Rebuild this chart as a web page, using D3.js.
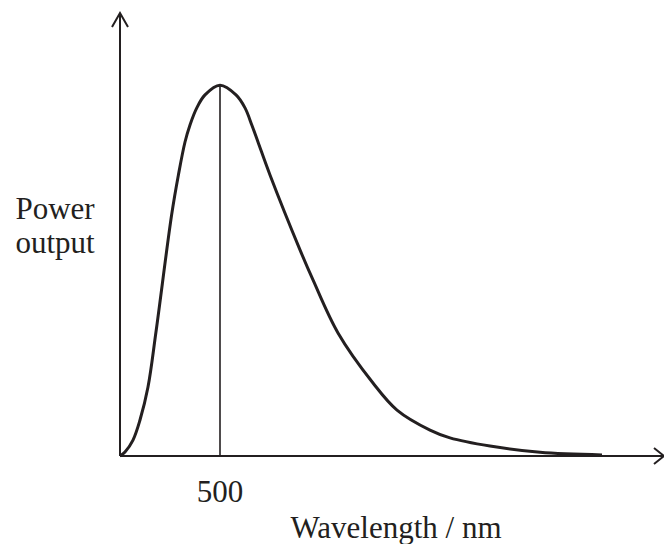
<!DOCTYPE html>
<html>
<head>
<meta charset="utf-8">
<script src="https://cdn.jsdelivr.net/npm/d3@7"></script>
<style>
  body { margin: 0; background: #fff; }
</style>
</head>
<body>
<svg id="chart" width="664" height="544"></svg>
<script>
// wavelength (nm) and power output (arbitrary units, peak = 100)
var wavelength = [0, 25, 65, 100, 140, 180, 258, 292, 325, 350, 384, 425, 500, 580, 625, 659, 690, 750, 900, 965, 1090, 1265, 1385, 1550, 1650, 1850, 2100, 2410];
var power      = [0, 1.1, 4.3, 9.7, 18.6, 33.5, 65.0, 75.8, 84.7, 89.3, 93.9, 97.4, 100, 97.4, 93.9, 89.3, 84.7, 75.8, 55.6, 47.5, 33.2, 19.7, 12.4, 7.0, 4.9, 2.7, 1.0, 0.3];
var peakWavelength = 500;
var tickLabels = ["500"];

var ink = "#231f20";
var serif = "'Liberation Serif', 'Times New Roman', 'DejaVu Serif', serif";
var svg = d3.select("#chart");

var x = d3.scaleLinear()
  .domain([0, 2720])
  .range([120, 664]);

var y = d3.scaleLinear()
  .domain([0, 119.5])
  .range([456, 13]);

var data = wavelength.map(function(w, i) {
  return { w: w, p: power[i] };
});

// axes with open arrow heads
svg.append("line")
  .attr("x1", x(0)).attr("y1", y(0))
  .attr("x2", x(2720)).attr("y2", y(0))
  .attr("stroke", ink).attr("stroke-width", 2);

svg.append("line")
  .attr("x1", x(0)).attr("y1", y(0))
  .attr("x2", x(0)).attr("y2", y(119.5))
  .attr("stroke", ink).attr("stroke-width", 2);

svg.append("polyline")
  .attr("points", [[x(0) - 8, y(119.5) + 14], [x(0), y(119.5)], [x(0) + 8, y(119.5) + 14]].join(" "))
  .attr("fill", "none").attr("stroke", ink).attr("stroke-width", 2);

svg.append("polyline")
  .attr("points", [[x(2720) - 10, y(0) - 8], [x(2720), y(0)], [x(2720) - 10, y(0) + 8]].join(" "))
  .attr("fill", "none").attr("stroke", ink).attr("stroke-width", 2);

// the curve
var line = d3.line()
  .x(function(d) { return x(d.w); })
  .y(function(d) { return y(d.p); })
  .curve(d3.curveCatmullRom.alpha(0.5));

svg.append("path")
  .datum(data)
  .attr("d", line)
  .attr("fill", "none")
  .attr("stroke", ink)
  .attr("stroke-width", 3);

// vertical line at the peak
var peakPower = d3.max(power);
svg.append("line")
  .attr("x1", x(peakWavelength)).attr("y1", y(0))
  .attr("x2", x(peakWavelength)).attr("y2", y(peakPower))
  .attr("stroke", ink).attr("stroke-width", 1.6);

function label(tx, ty, str) {
  svg.append("text")
    .attr("x", tx)
    .attr("y", ty)
    .attr("text-anchor", "middle")
    .attr("font-family", serif)
    .attr("font-size", "31px")
    .attr("fill", ink)
    .text(str);
}

label(x(peakWavelength), 502, tickLabels[0]);

// axis titles
label(396, 538, "Wavelength / nm");
label(55, 219, "Power");
label(55, 253, "output");
</script>
</body>
</html>
